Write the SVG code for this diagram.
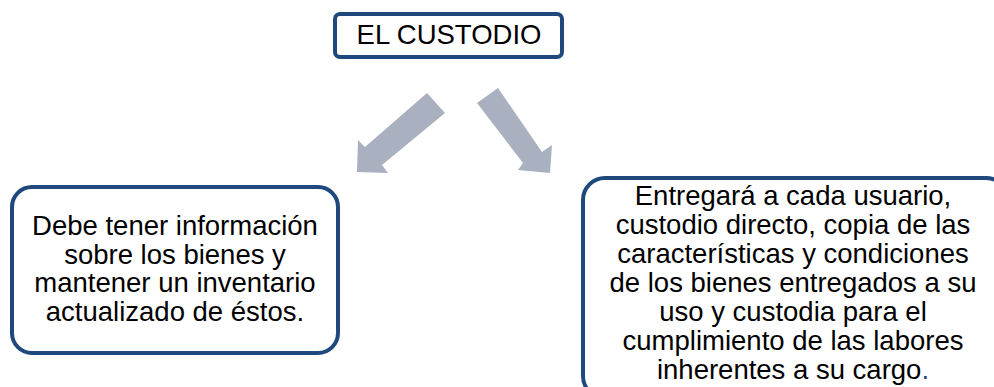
<svg xmlns="http://www.w3.org/2000/svg" width="994" height="387" viewBox="0 0 994 387">
<style>
.box{fill:#ffffff;stroke:#1F497D;stroke-width:4}
.t{font-family:"Liberation Sans",Arial,sans-serif;font-size:27.5px;fill:#000000;text-anchor:middle}
.arrow{fill:#A9B0BF}
</style>
<rect width="994" height="387" fill="#ffffff"/>
<g id="connectors">
<polygon class="arrow" points="427,93 445,113 382,165 388,173 357,172 358,140 365,147"/>
<polygon class="arrow" points="498,88 542,152 552,145 550,173 518,170 523,163 477,103"/>
</g>
<g id="node-custodio">
<rect class="box" x="335" y="14" width="227" height="43" rx="5"/>
<text class="t" x="449" y="44">EL CUSTODIO</text>
</g>
<g id="node-left">
<rect class="box" x="12" y="187" width="326" height="166" rx="20"/>
<text class="t" x="175" y="235">Debe tener información</text>
<text class="t" x="175" y="263.5">sobre los bienes y</text>
<text class="t" x="175" y="292">mantener un inventario</text>
<text class="t" x="175" y="320.5">actualizado de éstos.</text>
</g>
<g id="node-right">
<rect class="box" x="583" y="178" width="425" height="220" rx="22"/>
<text class="t" x="793" y="205">Entregará a cada usuario,</text>
<text class="t" x="793" y="234">custodio directo, copia de las</text>
<text class="t" x="793" y="263">características y condiciones</text>
<text class="t" x="793" y="292">de los bienes entregados a su</text>
<text class="t" x="793" y="321">uso y custodia para el</text>
<text class="t" x="793" y="350">cumplimiento de las labores</text>
<text class="t" x="793" y="379">inherentes a su cargo<tspan fill="#1F497D">.</tspan></text>
</g>
</svg>
